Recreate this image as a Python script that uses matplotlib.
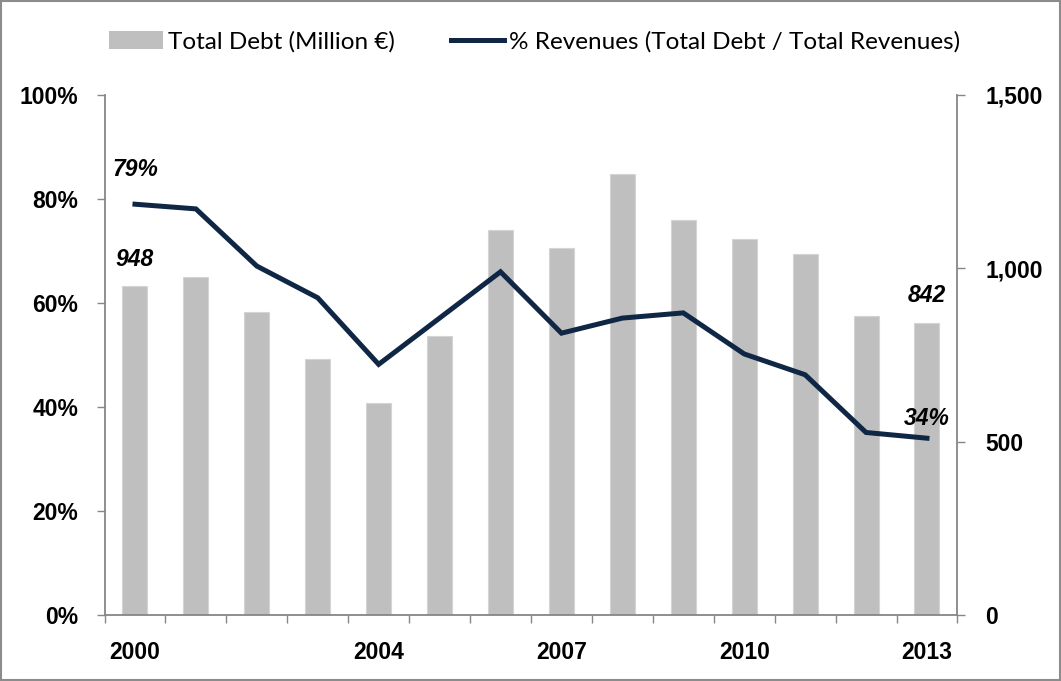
import matplotlib.pyplot as plt
from matplotlib.lines import Line2D
from matplotlib.patches import Patch, Rectangle

plt.rcParams['font.family'] = ['Lato', 'DejaVu Sans']
BOLD_FONT = ['Liberation Sans', 'DejaVu Sans']

# Yearly figures
years = list(range(2000, 2014))
total_debt = [948, 975, 874, 738, 611, 806, 1110, 1059, 1271, 1139, 1084, 1042, 862, 842]
pct_revenues = [79, 78.1, 67.1, 61.0, 48.2, 57.1, 66.0, 54.2, 57.1, 58.1, 50.2, 46.2, 35.1, 34]
shown_years = [2000, 2004, 2007, 2010, 2013]

bar_color = "#bfbfbf"
line_color = "#0f2744"
axis_color = "#868686"

fig = plt.figure(figsize=(10.61, 6.81), dpi=100)
ax = fig.add_axes([0.0985, 0.0969, 0.8039, 0.7636])
ax2 = ax.twinx()

x = list(range(len(years)))

# bars on the right axis, line on the left axis (line drawn on top)
ax2.bar(x, total_debt, width=0.41, color=bar_color, edgecolor="#d4d4d4", linewidth=0.8)
ax.plot(x, pct_revenues, color=line_color, linewidth=3.6, solid_joinstyle="miter")
ax.set_zorder(ax2.get_zorder() + 1)
ax.patch.set_visible(False)

ax.set_xlim(-0.5, len(years) - 0.5)
ax.set_ylim(0, 100)
ax2.set_ylim(0, 1500)

ax.set_yticks([0, 20, 40, 60, 80, 100])
ax.set_yticklabels([f"{v}%" for v in [0, 20, 40, 60, 80, 100]])
ax2.set_yticks([0, 500, 1000, 1500])
ax2.set_yticklabels([f"{v:,}" for v in [0, 500, 1000, 1500]])

# category labels only for some years, tick marks between categories
ax.set_xticks([years.index(y) for y in shown_years])
ax.set_xticklabels([str(y) for y in shown_years])
ax.set_xticks([i - 0.5 for i in range(len(years) + 1)], minor=True)
ax.tick_params(axis="x", which="major", length=0, pad=19)
ax.tick_params(axis="x", which="minor", length=6, width=1, color=axis_color, direction="out")

for a in (ax, ax2):
    for s in a.spines.values():
        s.set_visible(False)
    a.tick_params(axis="y", length=6, width=1, color=axis_color)
    for lbl in a.get_xticklabels() + a.get_yticklabels():
        lbl.set_family(BOLD_FONT)
        lbl.set_fontsize(16.5)
        lbl.set_fontweight("bold")
ax.tick_params(axis="y", pad=13)
ax2.tick_params(axis="y", pad=14)
ax.spines["left"].set_visible(True)
ax.spines["bottom"].set_visible(True)
ax2.spines["right"].set_visible(True)
for s in (ax.spines["left"], ax.spines["bottom"], ax2.spines["right"]):
    s.set_color(axis_color)
    s.set_linewidth(1.3)

# value callouts
lbl_kw = dict(textcoords="offset points", ha="center", va="center", family=BOLD_FONT,
              fontsize=16.5, fontweight="bold", fontstyle="italic")
ax.annotate(f"{pct_revenues[0]:.0f}%", (0, pct_revenues[0]), xytext=(0, 25), **lbl_kw)
ax.annotate(f"{pct_revenues[-1]:.0f}%", (13, pct_revenues[-1]), xytext=(0, 14), **lbl_kw)
ax2.annotate(f"{total_debt[0]}", (0, total_debt[0]), xytext=(0, 19), **lbl_kw)
ax2.annotate(f"{total_debt[-1]}", (13, total_debt[-1]), xytext=(0, 20), **lbl_kw)

handles = [Patch(facecolor=bar_color, edgecolor="none"),
           Line2D([], [], color=line_color, linewidth=3.6)]
fig.legend(handles, ["Total Debt (Million €)", "% Revenues (Total Debt / Total Revenues)"],
           loc="center", bbox_to_anchor=(0.504, 1 - 42 / 681), ncol=2, frameon=False,
           fontsize=17.5, handlelength=2.2, handleheight=0.75, handletextpad=0.2,
           columnspacing=2.3)

# outer frame
fig.patches.append(Rectangle((0.001, 0.001), 0.998, 0.997, transform=fig.transFigure,
                             fill=False, edgecolor="#8c8c8c", linewidth=1.5))

fig.savefig("out.png", dpi=100)
